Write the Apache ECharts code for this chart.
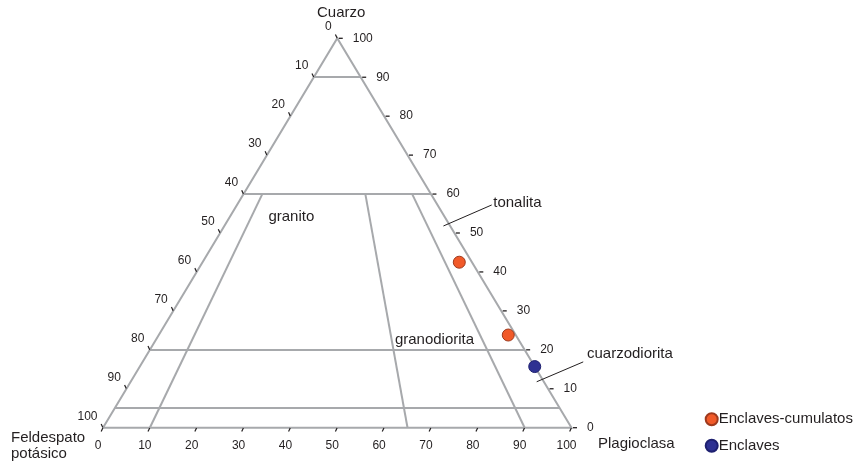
<!DOCTYPE html>
<html>
<head>
<meta charset="utf-8">
<script src="https://cdn.jsdelivr.net/npm/echarts@6/dist/echarts.min.js"></script>
<style>
html,body{margin:0;padding:0;background:#fff;}
#chart{width:860px;height:462px;}
</style>
</head>
<body>
<div id="chart"></div>
<script>
// ---- Data (ternary: Q = Cuarzo, A = Feldespato potásico, P = Plagioclasa) ----
const qBoundaries = [90, 60, 20, 5];          // horizontal lines, Q %
const ratioBoundaries = [10, 65, 90];         // P/(A+P) % lines, from Q=60 down to Q=0
const ratioTopQ = 60;
const enclavesCumulatos = [[42.5, 2.7, 54.8], [23.8, 1.6, 74.6]]; // [Q, A, P]
const enclaves = [[15.7, 0.0, 84.3]];                              // [Q, A, P]
const leftTickLabels = [0, 10, 20, 30, 40, 50, 60, 70, 80, 90, 100];
const rightTickLabels = [100, 90, 80, 70, 60, 50, 40, 30, 20, 10, 0];
const bottomTickLabels = [0, 10, 20, 30, 40, 50, 60, 70, 80, 90, 100];
const fieldNames = ['granito', 'granodiorita', 'tonalita', 'cuarzodiorita'];
const fieldLabelQP = [[54.2, 8.2], [22.5, 51.05], [57.8, 54.4], [18.9, 93.85]]; // [Q, P] anchor of text
const leaderLinesQP = [
  [[51.8, 46.76], [57.2, 54.37]],
  [[11.8, 86.67], [16.9, 94.05]]
];
const seriesNames = ['Enclaves-cumulatos', 'Enclaves'];

// ternary -> cartesian (x = P + Q/2, y = Q)
function toXY(q, p) { return [p + q / 2, q]; }

const FONT = 'Liberation Sans, Arial, sans-serif';
const TXT = '#231f20';
const GRAY = '#a7a9ac';

// boundary segments
const segs = [];
qBoundaries.forEach(q => segs.push({ coords: [toXY(q, 0), toXY(q, 100 - q)] }));
ratioBoundaries.forEach(r => segs.push({ coords: [toXY(ratioTopQ, r / 100 * (100 - ratioTopQ)), toXY(0, r)] }));

const triangle = [{ coords: [toXY(0, 0), toXY(100, 0), toXY(0, 100), toXY(0, 0)] }];

const leftPts = leftTickLabels.map(v => ({ value: toXY(100 - v, 0), name: String(v) }));
const rightPts = rightTickLabels.map(v => ({ value: toXY(v, 100 - v), name: String(v) }));
const bottomPts = bottomTickLabels.map(v => ({ value: toXY(0, v), name: String(v) }));

const labelBase = { show: true, position: 'inside', fontFamily: FONT, color: TXT, formatter: p => p.name };

const chart = echarts.init(document.getElementById('chart'));
chart.setOption({
  animation: false,
  backgroundColor: '#fff',
  title: {
    text: 'Cuarzo', left: 317, top: 5, padding: 0,
    textStyle: { fontFamily: FONT, fontSize: 15, fontWeight: 'normal', color: TXT }
  },
  grid: { left: 103, right: 288.5, top: 38.3, bottom: 34.3 },
  xAxis: { type: 'value', min: 0, max: 100, show: false },
  yAxis: { type: 'value', min: 0, max: 100, show: false },
  legend: {
    data: seriesNames, orient: 'vertical', left: 704.7, top: 411.8, padding: 0,
    itemWidth: 12, itemHeight: 12, itemGap: 11.4, icon: 'circle',
    textStyle: { fontFamily: FONT, fontSize: 15, color: TXT, padding: [0, 0, 0, -4] }
  },
  graphic: [
    { type: 'text', left: 11, top: 430, style: { text: 'Feldespato\npotásico', font: '15px ' + FONT, fill: TXT, lineHeight: 16 } },
    { type: 'text', left: 598, top: 436, style: { text: 'Plagioclasa', font: '15px ' + FONT, fill: TXT } }
  ],
  series: [
    { type: 'lines', coordinateSystem: 'cartesian2d', polyline: true, silent: true, clip: false, z: 2,
      lineStyle: { color: GRAY, width: 2, opacity: 1 }, data: triangle },
    { type: 'lines', coordinateSystem: 'cartesian2d', silent: true, clip: false, z: 2,
      lineStyle: { color: GRAY, width: 2, opacity: 1 }, data: segs },
    { type: 'lines', coordinateSystem: 'cartesian2d', silent: true, clip: false, z: 3,
      lineStyle: { color: '#231f20', width: 1, opacity: 1 },
      data: leaderLinesQP.map(l => ({ coords: l.map(qp => toXY(qp[0], qp[1])) })) },
    // left ticks + labels
    { type: 'scatter', silent: true, clip: false, z: 3, data: leftPts, symbol: 'rect', symbolSize: [1.2, 4],
      symbolRotate: 25, symbolOffset: [-1, -2], itemStyle: { color: '#231f20', opacity: 1 },
      label: Object.assign({}, labelBase, { fontSize: 12, align: 'right', verticalAlign: 'middle', offset: [-4.5, -9.5] }) },
    // right ticks + labels
    { type: 'scatter', silent: true, clip: false, z: 3, data: rightPts, symbol: 'rect', symbolSize: [4, 1.3],
      symbolOffset: [3.5, 0], itemStyle: { color: '#231f20', opacity: 1 },
      label: Object.assign({}, labelBase, { fontSize: 12, align: 'left', verticalAlign: 'middle', offset: [12, 0] }) },
    // bottom ticks + labels
    { type: 'scatter', silent: true, clip: false, z: 3, data: bottomPts, symbol: 'rect', symbolSize: [1.2, 4],
      symbolRotate: -25, symbolOffset: [-1, 2], itemStyle: { color: '#231f20', opacity: 1 },
      label: Object.assign({}, labelBase, { fontSize: 12, align: 'center', verticalAlign: 'middle', offset: [-4, 16.3] }) },
    // field names
    { type: 'scatter', silent: true, clip: false, z: 3, symbolSize: 1, itemStyle: { color: 'rgba(0,0,0,0)', opacity: 1 },
      data: fieldNames.map((n, i) => ({ name: n, value: toXY(fieldLabelQP[i][0], fieldLabelQP[i][1]) })),
      label: Object.assign({}, labelBase, { fontSize: 15, align: 'left', verticalAlign: 'middle' }) },
    // data
    { name: seriesNames[0], type: 'scatter', clip: false, z: 5, symbol: 'circle', symbolSize: 12,
      itemStyle: { color: '#f15a29', borderColor: '#9e3a1e', borderWidth: 1, opacity: 1 },
      data: enclavesCumulatos.map(d => toXY(d[0], d[2])) },
    { name: seriesNames[1], type: 'scatter', clip: false, z: 5, symbol: 'circle', symbolSize: 12,
      itemStyle: { color: '#2e3192', borderColor: '#1e2070', borderWidth: 1, opacity: 1 },
      data: enclaves.map(d => toXY(d[0], d[2])) }
  ]
});
</script>
</body>
</html>
